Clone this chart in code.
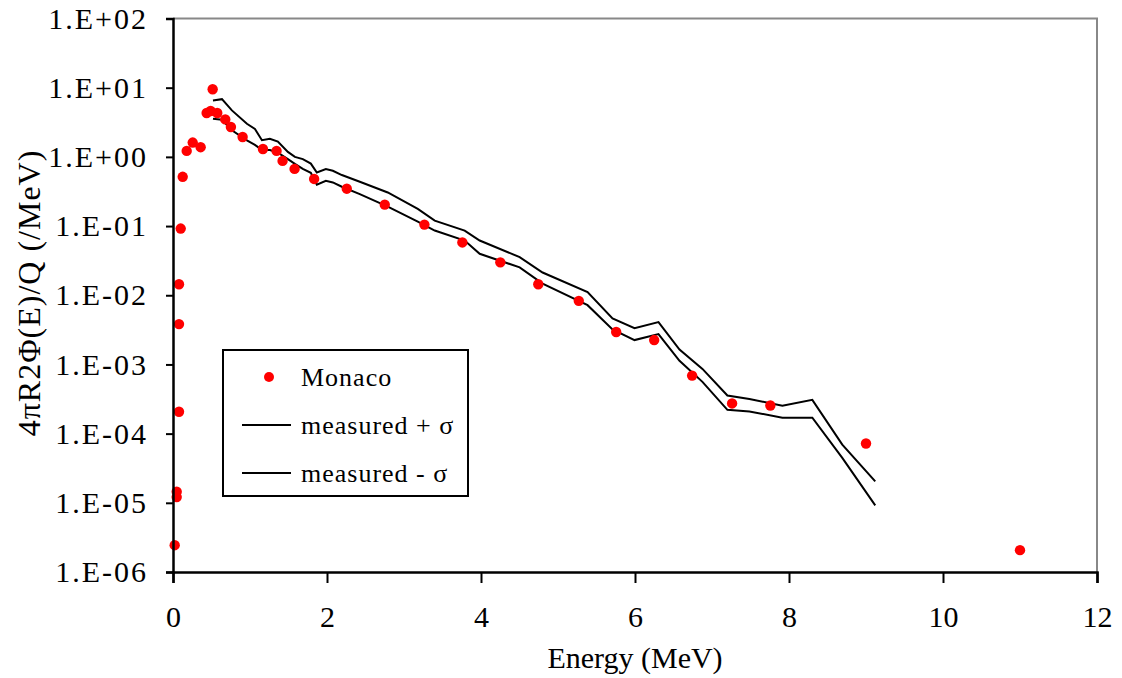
<!DOCTYPE html>
<html>
<head>
<meta charset="utf-8">
<script src="https://cdn.jsdelivr.net/npm/d3@7"></script>
<style>
  body { margin: 0; background: #fff; }
  svg text { font-family: "Liberation Serif", "Times New Roman", Tinos, "Nimbus Roman", "DejaVu Serif", serif; }
</style>
</head>
<body>
<div id="chart"></div>
<script>
// Monaco calculated spectrum (energy MeV, value /MeV)
const monacoEnergy = [0.022, 0.048, 0.048, 0.078, 0.078, 0.078, 0.1, 0.126, 0.178, 0.256, 0.359, 0.437, 0.489, 0.515, 0.575, 0.679, 0.752, 0.904, 1.168, 1.345, 1.423, 1.579, 1.833, 2.257, 2.75, 3.265, 3.758, 4.251, 4.744, 5.27, 5.756, 6.249, 6.742, 7.261, 7.758, 9.0, 11.0]
const monacoValue = [2.44e-6, 1.21e-5, 1.45e-5, 2.07e-4, 3.83e-3, 1.44e-2, 0.092, 0.515, 1.22, 1.61, 1.38, 4.3, 4.6, 9.5, 4.3, 3.48, 2.7, 1.94, 1.3, 1.22, 0.875, 0.67, 0.48, 0.347, 0.204, 0.105, 0.058, 0.0299, 0.0144, 0.0083, 0.00294, 0.00225, 6.9e-4, 2.73e-4, 2.55e-4, 7.2e-5, 2.07e-6]

// measured spectrum +/- sigma, shared energy grid
const measEnergy = [0.519, 0.636, 0.765, 0.96, 1.064, 1.155, 1.258, 1.362, 1.492, 1.583, 1.686, 1.79, 1.868, 1.985, 2.076, 2.193, 2.426, 2.789, 3.179, 3.399, 3.788, 3.983, 4.502, 4.8, 5.384, 5.708, 5.994, 6.305, 6.578, 6.876, 7.2, 7.486, 7.914, 8.303, 8.692, 9.12]
const measUpper = [6.55, 6.83, 4.7, 3.01, 2.53, 1.74, 1.83, 1.66, 1.18, 1.0, 0.927, 0.8, 0.594, 0.665, 0.629, 0.546, 0.437, 0.306, 0.177, 0.12, 0.0861, 0.0618, 0.0356, 0.0213, 0.0111, 0.00462, 0.00335, 0.00409, 0.00164, 8.61e-4, 3.56e-4, 3.16e-4, 2.53e-4, 3.08e-4, 6.95e-5, 2.04e-5]
const measLower = [3.56, 3.44, 2.42, 1.73, 1.49, 1.26, 1.26, 1.15, 0.927, 0.793, 0.672, 0.589, 0.395, 0.452, 0.427, 0.37, 0.29, 0.191, 0.116, 0.0861, 0.0618, 0.0398, 0.0253, 0.0147, 0.00718, 0.00321, 0.00225, 0.00275, 0.00113, 5.6e-4, 2.21e-4, 2.09e-4, 1.7e-4, 1.7e-4, 4.47e-5, 9.2e-6]

const xTicks = [0, 2, 4, 6, 8, 10, 12]
const yTicks = [1e-6, 1e-5, 1e-4, 1e-3, 1e-2, 1e-1, 1e0, 1e1, 1e2]
const legendLabels = ['Monaco', 'measured + σ', 'measured - σ']

const margin = { top: 18.5, left: 173, right: 25, bottom: 106 }
const width = 1122 - margin.left - margin.right
const height = 678 - margin.top - margin.bottom

const serif = '"Liberation Serif", "Times New Roman", Tinos, "Nimbus Roman", "DejaVu Serif", serif'

const svg = d3
  .select('#chart')
  .append('svg')
  .attr('width', 1122)
  .attr('height', 678)
  .append('g')
  .attr('transform', 'translate(' + margin.left + ',' + margin.top + ')')

const xPositionScale = d3
  .scaleLinear()
  .domain([0, 12])
  .range([0, width])

const yPositionScale = d3
  .scaleLog()
  .domain([1e-6, 1e2])
  .range([height, 0])

// 1.E+02 style labels
function expLabel(d) {
  const e = Math.round(Math.log10(d))
  const s = e < 0 ? '-' : '+'
  return '1.E' + s + String(Math.abs(e)).padStart(2, '0')
}

// plot area border (grey, top + right)
svg
  .append('path')
  .attr('d', 'M0,0H' + width + 'V' + height)
  .attr('fill', 'none')
  .attr('stroke', '#888')
  .attr('stroke-width', 2)

const line = d3
  .line()
  .x(d => xPositionScale(d[0]))
  .y(d => yPositionScale(d[1]))

const upperPoints = measEnergy.map((e, i) => [e, measUpper[i]])
const lowerPoints = measEnergy.map((e, i) => [e, measLower[i]])

svg
  .append('path')
  .datum(upperPoints)
  .attr('d', line)
  .attr('fill', 'none')
  .attr('stroke', '#000')
  .attr('stroke-width', 2)

svg
  .append('path')
  .datum(lowerPoints)
  .attr('d', line)
  .attr('fill', 'none')
  .attr('stroke', '#000')
  .attr('stroke-width', 2)

svg
  .selectAll('.monaco')
  .data(monacoEnergy.map((e, i) => [e, monacoValue[i]]))
  .enter()
  .append('circle')
  .attr('class', 'monaco')
  .attr('cx', d => xPositionScale(d[0]))
  .attr('cy', d => yPositionScale(d[1]))
  .attr('r', 5.2)
  .attr('fill', '#ff0000')

// axes
const xAxis = d3
  .axisBottom(xPositionScale)
  .tickValues(xTicks)
  .tickSize(11)
  .tickPadding(23)
  .tickFormat(d3.format('d'))

svg
  .append('g')
  .attr('class', 'x-axis')
  .attr('transform', 'translate(0,' + height + ')')
  .call(xAxis)

const yAxis = d3
  .axisLeft(yPositionScale)
  .tickValues(yTicks)
  .tickSize(7)
  .tickPadding(18)
  .tickFormat(expLabel)

svg
  .append('g')
  .attr('class', 'y-axis')
  .call(yAxis)

svg.selectAll('.x-axis, .y-axis').attr('font-family', serif)
svg.selectAll('.domain').attr('stroke', '#000').attr('stroke-width', 2.5)
svg.selectAll('.tick line').attr('stroke', '#000').attr('stroke-width', 2)
svg
  .selectAll('.tick text')
  .attr('fill', '#000')
  .attr('font-size', 30)

svg.selectAll('.y-axis .tick text').attr('letter-spacing', 2)

// axis titles
svg
  .append('text')
  .attr('x', xPositionScale(6))
  .attr('y', height + 96)
  .attr('text-anchor', 'middle')
  .attr('font-size', 30)
  .text('Energy (MeV)')

svg
  .append('text')
  .attr('transform', 'translate(' + (40 - margin.left) + ',' + (293 - margin.top) + ') rotate(-90)')
  .attr('text-anchor', 'middle')
  .attr('font-size', 32)
  .attr('letter-spacing', 1)
  .text('4πR2Φ(E)/Q (/MeV)')

// legend
const legend = svg
  .append('g')
  .attr('transform', 'translate(' + (223 - margin.left) + ',' + (350 - margin.top) + ')')

legend
  .append('rect')
  .attr('width', 245)
  .attr('height', 146)
  .attr('fill', '#fff')
  .attr('stroke', '#000')
  .attr('stroke-width', 2)

const legendRows = legend
  .selectAll('.legend-row')
  .data(legendLabels)
  .enter()
  .append('g')
  .attr('class', 'legend-row')
  .attr('transform', (d, i) => 'translate(0,' + (27 + i * 48) + ')')

legendRows
  .filter((d, i) => i === 0)
  .append('circle')
  .attr('cx', 46)
  .attr('cy', 0)
  .attr('r', 5)
  .attr('fill', '#ff0000')

legendRows
  .filter((d, i) => i > 0)
  .append('line')
  .attr('x1', 19)
  .attr('x2', 68)
  .attr('stroke', '#000')
  .attr('stroke-width', 2)

legendRows
  .append('text')
  .attr('x', 78)
  .attr('dy', '0.35em')
  .attr('font-size', 26)
  .attr('letter-spacing', 1)
  .text(d => d)
</script>
</body>
</html>
